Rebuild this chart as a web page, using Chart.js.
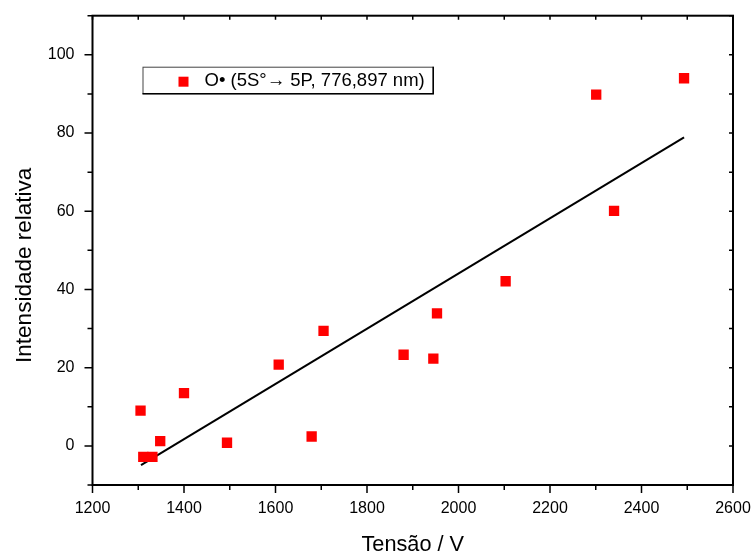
<!DOCTYPE html>
<html><head><meta charset="utf-8">
<script src="https://cdn.jsdelivr.net/npm/chart.js@4"></script>
<style>html,body{margin:0;padding:0;background:#fff}#wrap{width:755px;height:553px;position:relative}</style>
</head><body><div id="wrap"><canvas id="c" width="755" height="553"></canvas></div>
<script>
const voltage   = [1305, 1311, 1331, 1348, 1400, 1494, 1607, 1679, 1705, 1880, 1945, 1953, 2103, 2301, 2340, 2493];
const intensity = [9.0, -2.8, -2.8, 1.2, 13.5, 0.8, 20.8, 2.4, 29.4, 23.3, 22.3, 33.9, 42.1, 89.8, 60.1, 94.0];
const fitX = [1306, 2493];
const fitY = [-4.9, 78.9];
const xTicks = [1200, 1400, 1600, 1800, 2000, 2200, 2400, 2600];
const xMinor = [1300, 1500, 1700, 1900, 2100, 2300, 2500];
const yTicks = [0, 20, 40, 60, 80, 100];
const yMinor = [-10, 10, 30, 50, 70, 90, 110];
const seriesLabel = 'O\u2022 (5S\u00B0\u2192 5P, 776,897 nm)';
const xTitle = 'Tensão / V';
const yTitle = 'Intensidade relativa';

const FONT = "'Liberation Sans', Arial, sans-serif";

const framePlugin = {
  id: 'frame',
  afterDatasetsDraw(chart) {
    const ctx = chart.ctx, a = chart.chartArea;
    const xs = chart.scales.x, ys = chart.scales.y;
    ctx.save();
    ctx.strokeStyle = '#000';
    ctx.lineWidth = 1.5;
    ctx.beginPath();
    // bottom & left axes: outward ticks
    xTicks.forEach(v => { const p = xs.getPixelForValue(v); ctx.moveTo(p, a.bottom); ctx.lineTo(p, a.bottom + 8); });
    xMinor.forEach(v => { const p = xs.getPixelForValue(v); ctx.moveTo(p, a.bottom); ctx.lineTo(p, a.bottom + 5); });
    yTicks.forEach(v => { const p = ys.getPixelForValue(v); ctx.moveTo(a.left, p); ctx.lineTo(a.left - 8, p); });
    yMinor.forEach(v => { const p = ys.getPixelForValue(v); ctx.moveTo(a.left, p); ctx.lineTo(a.left - 5, p); });
    // top & right axes: inward ticks
    xTicks.concat(xMinor).forEach(v => { const p = xs.getPixelForValue(v); ctx.moveTo(p, a.top); ctx.lineTo(p, a.top + 4); });
    yTicks.concat(yMinor).forEach(v => { const p = ys.getPixelForValue(v); ctx.moveTo(a.right, p); ctx.lineTo(a.right - 4, p); });
    ctx.stroke();
    ctx.lineWidth = 2;
    ctx.strokeRect(a.left, a.top, a.right - a.left, a.bottom - a.top);

    // y-axis title
    ctx.save();
    ctx.translate(24.5, (a.top + a.bottom) / 2 + 15);
    ctx.rotate(-Math.PI / 2);
    ctx.font = '22.5px ' + FONT;
    ctx.fillStyle = '#000';
    ctx.textAlign = 'center';
    ctx.textBaseline = 'middle';
    ctx.fillText(yTitle, 0, 0);
    ctx.restore();

    // legend box
    const ds = chart.data.datasets[0];
    ctx.font = '18.5px ' + FONT;
    const tw = ctx.measureText(ds.label).width;
    const bx = a.left + 50, by = a.top + 51, bh = 26.5;
    const bw = 62 + tw + 8;
    ctx.fillStyle = '#fff';
    ctx.fillRect(bx, by, bw, bh);
    ctx.lineWidth = 1;
    ctx.strokeStyle = '#444';
    ctx.strokeRect(bx + 0.5, by + 0.5, bw, bh);
    ctx.lineWidth = 1.5;
    ctx.strokeStyle = '#000';
    ctx.beginPath();
    ctx.moveTo(bx + bw + 0.5, by); ctx.lineTo(bx + bw + 0.5, by + bh + 0.5); ctx.lineTo(bx, by + bh + 0.5);
    ctx.stroke();
    ctx.fillStyle = ds.backgroundColor;
    ctx.fillRect(bx + 36, by + 10, 10, 10);
    ctx.fillStyle = '#000';
    ctx.textBaseline = 'middle';
    ctx.textAlign = 'left';
    ctx.fillText(ds.label, bx + 62, by + bh / 2 + 1);
    ctx.restore();
  }
};

new Chart(document.getElementById('c'), {
  type: 'scatter',
  data: {
    datasets: [
      {
        label: seriesLabel,
        data: voltage.map((v, i) => ({x: v, y: intensity[i]})),
        pointStyle: 'rect',
        pointRadius: 7.3,
        pointHoverRadius: 7.3,
        backgroundColor: '#ff0000',
        borderColor: '#ff0000',
        borderWidth: 0,
        showLine: false
      },
      {
        label: 'fit',
        type: 'line',
        data: fitX.map((v, i) => ({x: v, y: fitY[i]})),
        borderColor: '#000',
        borderWidth: 2,
        pointRadius: 0,
        fill: false,
        tension: 0
      }
    ]
  },
  options: {
    responsive: false,
    animation: false,
    devicePixelRatio: 1,
    layout: { padding: { top: 15.7, right: 22, left: 0, bottom: 0 } },
    plugins: { legend: { display: false }, tooltip: { enabled: false } },
    scales: {
      x: {
        type: 'linear', min: 1200, max: 2600,
        afterBuildTicks: s => { s.ticks = xTicks.map(v => ({value: v})); },
        afterFit: s => { s.height = 68; s.paddingLeft = 0; s.paddingRight = 0; },
        grid: { display: false, drawTicks: false },
        border: { display: false },
        ticks: { color: '#000', font: { family: FONT, size: 16 }, padding: 14, maxRotation: 0, callback: v => String(v) },
        title: { display: true, text: xTitle, color: '#000', font: { family: FONT, size: 21.7, lineHeight: 0.76 }, padding: 0 }
      },
      y: {
        type: 'linear', min: -10, max: 110,
        afterBuildTicks: s => { s.ticks = yTicks.map(v => ({value: v})); },
        afterFit: s => { s.width = 92.5; s.paddingTop = 0; s.paddingBottom = 0; },
        grid: { display: false, drawTicks: false },
        border: { display: false },
        ticks: { color: '#000', font: { family: FONT, size: 16 }, padding: 18, callback: v => String(v) },
        title: { display: false, text: yTitle }
      }
    }
  },
  plugins: [framePlugin]
});
</script>
</body></html>
